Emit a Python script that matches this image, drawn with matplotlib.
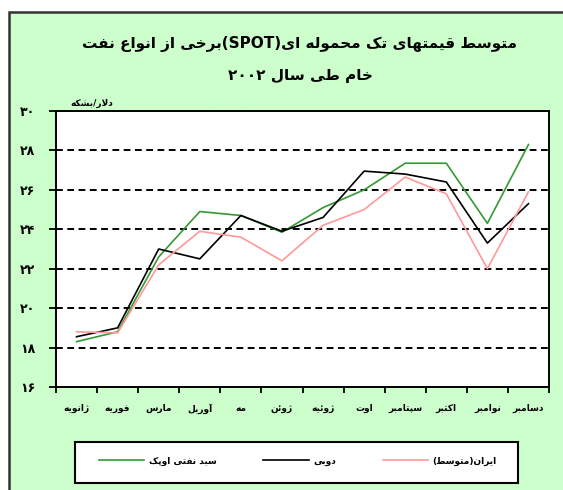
import numpy as np
import matplotlib
matplotlib.use("Agg")
import matplotlib.pyplot as plt
from matplotlib.patches import Rectangle

plt.rcParams['font.family'] = ['DejaVu Sans']

# data (dollars per barrel, 2002)
months = ['ژانویه', 'فوریه', 'مارس', 'آوریل', 'مه', 'ژوئن',
          'ژوئیه', 'اوت', 'سپتامبر', 'اکتبر', 'نوامبر', 'دسامبر']
opec = [18.3, 18.8, 22.6, 24.9, 24.7, 23.85, 25.1, 26.0, 27.35, 27.35, 24.3, 28.3]
dubai = [18.55, 19.0, 23.0, 22.5, 24.7, 23.9, 24.6, 26.95, 26.8, 26.4, 23.3, 25.3]
iran = [18.8, 18.75, 22.2, 23.9, 23.6, 22.4, 24.2, 25.0, 26.65, 25.8, 22.0, 25.9]
series_names = ['سبد نفتی اوپک', 'دوبی', 'ایران(متوسط)']
yticks = [16, 18, 20, 22, 24, 26, 28, 30]
title1 = 'متوسط قیمتهای تک محموله ای(SPOT)برخی از انواع نفت'
title2 = 'خام طی سال ۲۰۰۲'
unit = 'دلار/بشکه'

# --- tiny arabic/persian shaper (matplotlib does no shaping or bidi) ---
FORMS = {
    'ا': (0xFE8D, 0xFE8E, None, None), 'آ': (0xFE81, 0xFE82, None, None),
    'ب': (0xFE8F, 0xFE90, 0xFE91, 0xFE92), 'پ': (0xFB56, 0xFB57, 0xFB58, 0xFB59),
    'ت': (0xFE95, 0xFE96, 0xFE97, 0xFE98), 'ح': (0xFEA1, 0xFEA2, 0xFEA3, 0xFEA4),
    'خ': (0xFEA5, 0xFEA6, 0xFEA7, 0xFEA8), 'د': (0xFEA9, 0xFEAA, None, None),
    'ر': (0xFEAD, 0xFEAE, None, None), 'ز': (0xFEAF, 0xFEB0, None, None),
    'ژ': (0xFB8A, 0xFB8B, None, None), 'س': (0xFEB1, 0xFEB2, 0xFEB3, 0xFEB4),
    'ش': (0xFEB5, 0xFEB6, 0xFEB7, 0xFEB8), 'ط': (0xFEC1, 0xFEC2, 0xFEC3, 0xFEC4),
    'ع': (0xFEC9, 0xFECA, 0xFECB, 0xFECC), 'ف': (0xFED1, 0xFED2, 0xFED3, 0xFED4),
    'ق': (0xFED5, 0xFED6, 0xFED7, 0xFED8), 'ک': (0xFB8E, 0xFB8F, 0xFB90, 0xFB91),
    'ل': (0xFEDD, 0xFEDE, 0xFEDF, 0xFEE0), 'م': (0xFEE1, 0xFEE2, 0xFEE3, 0xFEE4),
    'ن': (0xFEE5, 0xFEE6, 0xFEE7, 0xFEE8), 'و': (0xFEED, 0xFEEE, None, None),
    'ه': (0xFEE9, 0xFEEA, 0xFEEB, 0xFEEC), 'ی': (0xFBFC, 0xFBFD, 0xFBFE, 0xFBFF),
    'ئ': (0xFE89, 0xFE8A, 0xFE8B, 0xFE8C),
}
LIGS = {'لا': (0xFEFB, 0xFEFC), 'لآ': (0xFEF5, 0xFEF6)}
MIRROR = {'(': ')', ')': '('}


def shape(text):
    toks = []
    i = 0
    while i < len(text):
        if text[i] == 'ل' and i + 1 < len(text) and text[i + 1] in 'اآ':
            toks.append(text[i:i + 2])
            i += 2
        else:
            toks.append(text[i])
            i += 1
    out = []
    for k, t in enumerate(toks):
        prev = toks[k - 1] if k > 0 else ''
        nxt = toks[k + 1] if k + 1 < len(toks) else ''
        jp = prev in FORMS and FORMS[prev][2] is not None
        if t in LIGS:
            out.append(chr(LIGS[t][1] if jp else LIGS[t][0]))
            continue
        if t not in FORMS:
            out.append(t)
            continue
        f = FORMS[t]
        jn = f[2] is not None and (nxt in FORMS or nxt in LIGS)
        if jp and jn:
            out.append(chr(f[3]))
        elif jp:
            out.append(chr(f[1]))
        elif jn:
            out.append(chr(f[2]))
        else:
            out.append(chr(f[0]))
    return ''.join(out)


def fa(text):
    # shape, then lay out right-to-left for matplotlib's left-to-right drawing
    s = shape(text)
    runs = []
    for c in s:
        ltr = (c.isascii() and c.isalnum()) or ('\u06f0' <= c <= '\u06f9')
        if runs and runs[-1][0] == ltr:
            runs[-1][1].append(c)
        else:
            runs.append((ltr, [c]))
    parts = []
    for ltr, chars in reversed(runs):
        if ltr:
            parts.append(''.join(chars))
        else:
            parts.append(''.join(MIRROR.get(c, c) for c in reversed(chars)))
    return ''.join(parts)


def fa_num(v):
    return str(v).translate(str.maketrans('0123456789', '۰۱۲۳۴۵۶۷۸۹'))


fig = plt.figure(figsize=(5.63, 4.90), dpi=100)
fig.patch.set_facecolor('white')

# green panel with dark border (only top and left edges fall inside the image)
fig.patches.append(Rectangle((9 / 563, -0.1), 1.2, 1.1 - 12 / 490,
                             transform=fig.transFigure, facecolor='#ccffcc',
                             edgecolor='#333333', linewidth=1.8, zorder=-5))

ax = fig.add_axes([56 / 563, 1 - 387 / 490, 493 / 563, 276 / 490])
ax.set_zorder(1)
ax.set_facecolor('white')
x = np.arange(len(months))
ax.plot(x, opec, color='#339933', lw=1.2, label=fa(series_names[0]))
ax.plot(x, dubai, color='black', lw=1.2, label=fa(series_names[1]))
ax.plot(x, iran, color='#ff9999', lw=1.2, label=fa(series_names[2]))

ax.set_xlim(-0.5, 11.5)
ax.set_ylim(16, 30)
ax.set_yticks(yticks)
ax.set_yticklabels([fa_num(v) for v in yticks], fontsize=9, fontweight='bold')
ax.set_xticks(x)
ax.set_xticklabels([fa(m) for m in months], fontsize=6.5, fontweight='bold')
ax.set_xticks(np.arange(-0.5, 12, 1), minor=True)
ax.tick_params(axis='x', which='major', length=0, pad=12)
ax.tick_params(axis='x', which='minor', length=4, width=1.3)
ax.tick_params(axis='y', length=5, width=1.3, pad=10)
ax.yaxis.grid(True, color='black', linestyle=(0, (3.5, 2.3)), lw=1.4)
ax.set_axisbelow(True)
for sp in ax.spines.values():
    sp.set_linewidth(1.4)
    sp.set_color('black')

fig.text(300 / 563, 1 - 44 / 490, fa(title1), ha='center', va='center',
         fontsize=11, fontweight='bold')
fig.text(300 / 563, 1 - 75 / 490, fa(title2), ha='center', va='center',
         fontsize=11, fontweight='bold')
fig.text(92 / 563, 1 - 103 / 490, fa(unit), ha='center', va='center',
         fontsize=6.5, fontweight='bold')

# legend box
fig.patches.append(Rectangle((75 / 563, 1 - 483 / 490), 443 / 563, 41 / 490,
                             transform=fig.transFigure, facecolor='white',
                             edgecolor='black', linewidth=1.5, zorder=1))
handles, labels = ax.get_legend_handles_labels()
leg = fig.legend(handles, labels, loc='center', ncol=3,
                 bbox_to_anchor=(298 / 563, 1 - 461 / 490),
                 frameon=False, fontsize=6.5, handlelength=5,
                 handletextpad=0.5, columnspacing=5.2)
for t in leg.get_texts():
    t.set_fontweight('bold')
leg.set_zorder(2)

fig.savefig('out.png', dpi=100)
